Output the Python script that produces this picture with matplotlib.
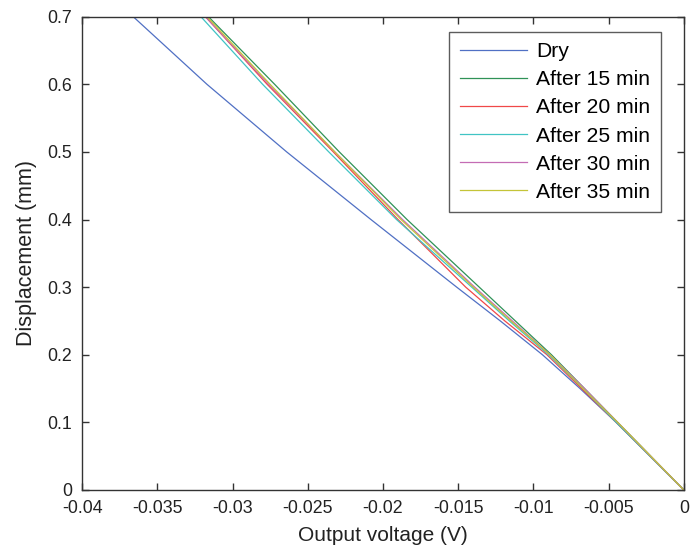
import matplotlib
matplotlib.use("Agg")
import matplotlib.pyplot as plt

plt.rcParams['font.family'] = ['Liberation Sans', 'DejaVu Sans']

disp = [0.0, 0.1, 0.15, 0.2, 0.25, 0.3, 0.4, 0.5, 0.6, 0.7]
v_dry = [0.0, -0.0045, -0.0069, -0.0094, -0.0122, -0.0151, -0.0208, -0.0264, -0.0317, -0.0366]
v_15 = [0.0, -0.0044, -0.0066, -0.0088, -0.0112, -0.0136, -0.0184, -0.0229, -0.0272, -0.0316]
v_20 = [0.0, -0.0045, -0.0068, -0.0091, -0.0119, -0.0145, -0.0190, -0.0233, -0.0277, -0.0318]
v_25 = [0.0, -0.0045, -0.0067, -0.0090, -0.0116, -0.0141, -0.0191, -0.0236, -0.0280, -0.0321]
v_30 = [0.0, -0.0044, -0.0066, -0.0089, -0.0114, -0.0139, -0.0187, -0.0232, -0.0276, -0.0318]
v_35 = [0.0, -0.0044, -0.0067, -0.0089, -0.0115, -0.0140, -0.0188, -0.0232, -0.0275, -0.0317]

labels = ['Dry', 'After 15 min', 'After 20 min', 'After 25 min', 'After 30 min', 'After 35 min']
colors = ['#5070c4', '#2f9257', '#f04848', '#40c4c4', '#c46cb4', '#c4c438']
series = [v_dry, v_15, v_20, v_25, v_30, v_35]

xticks = [-0.04, -0.035, -0.03, -0.025, -0.02, -0.015, -0.01, -0.005, 0]
xticklabels = ['-0.04', '-0.035', '-0.03', '-0.025', '-0.02', '-0.015', '-0.01', '-0.005', '0']
yticks = [0, 0.1, 0.2, 0.3, 0.4, 0.5, 0.6, 0.7]
yticklabels = ['0', '0.1', '0.2', '0.3', '0.4', '0.5', '0.6', '0.7']

fig = plt.figure(figsize=(6.9, 5.48), dpi=100)
ax = fig.add_axes([0.119, 0.106, 0.872, 0.8635])

for v, lab, c in zip(series, labels, colors):
    ax.plot(v, disp, color=c, lw=0.9, label=lab)

ax.set_xlim(-0.04, 0)
ax.set_ylim(0, 0.7)
ax.set_xticks(xticks)
ax.set_xticklabels(xticklabels)
ax.set_yticks(yticks)
ax.set_yticklabels(yticklabels)
ax.tick_params(direction='in', length=5, width=1, color='#333333',
               top=True, right=True, labelsize=12.8, labelcolor='#222222')
ax.tick_params(axis='x', pad=7)
ax.tick_params(axis='y', pad=7)
for s in ax.spines.values():
    s.set_color('#333333')
    s.set_linewidth(1.0)

ax.set_xlabel('Output voltage (V)', fontsize=15, color='#222222', labelpad=7)
ax.set_ylabel('Displacement (mm)', fontsize=15.5, color='#222222', labelpad=8)

leg = ax.legend(loc='upper right', bbox_to_anchor=(0.9618, 0.9683), fontsize=15.2,
                frameon=True, fancybox=False, edgecolor='#333333',
                handlelength=3.2, handletextpad=0.42, borderpad=0.5,
                labelspacing=0.43, borderaxespad=0.0)
leg.get_frame().set_linewidth(1.0)

fig.savefig('out.png', dpi=100)
